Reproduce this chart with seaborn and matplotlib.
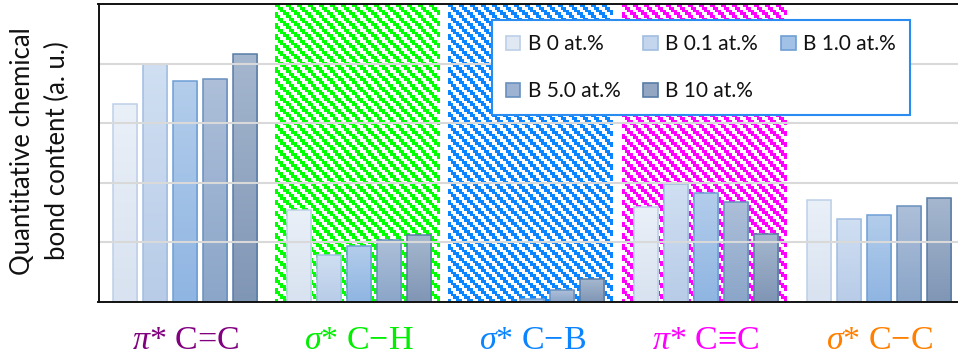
import numpy as np
import pandas as pd
import matplotlib
matplotlib.use("Agg")
import matplotlib.pyplot as plt
from matplotlib.colors import to_rgb
from matplotlib.patches import Patch
import seaborn as sns

# ---- data -------------------------------------------------------------
bonds = ["π* C=C", "σ* C−H", "σ* C−B", "π* C≡C", "σ* C−C"]
bond_labels = ["$\\pi$* C=C", "$\\sigma$* C−H", "$\\sigma$* C−B",
               "$\\pi$* C≡C", "$\\sigma$* C−C"]
bond_colors = ["#800080", "#00ee00", "#0a84ff", "#ff00ff", "#ff8000"]
samples = ["B 0 at.%", "B 0.1 at.%", "B 1.0 at.%", "B 5.0 at.%", "B 10 at.%"]

b_0 = [3.32, 1.54, 0.00, 1.59, 1.71]
b_01 = [4.00, 0.79, 0.00, 1.98, 1.39]
b_10 = [3.70, 0.94, 0.04, 1.82, 1.46]
b_50 = [3.74, 1.04, 0.20, 1.68, 1.60]
b_100 = [4.16, 1.12, 0.38, 1.14, 1.74]

# hatched backdrop behind the σ*C−H, σ*C−B and π*C≡C groups
hatched_bonds = ["σ* C−H", "σ* C−B", "π* C≡C"]
hatch_colors = ["#00ff00", "#0a84ff", "#ff00ff"]

# ---- style ------------------------------------------------------------
sns.set_theme(style="white")
plt.rcParams["font.family"] = ["Lato", "DejaVu Sans"]
plt.rcParams["mathtext.fontset"] = "custom"
plt.rcParams["mathtext.rm"] = "Liberation Serif"
plt.rcParams["mathtext.it"] = "Liberation Serif:italic"

grad_top = ["#eaf0f8", "#d0dff2", "#b3cdeb", "#adbfd9", "#a5b7cf"]
grad_bot = ["#d8e2f0", "#b8cce8", "#8fb5e2", "#8ba6c9", "#8096b5"]
edge_cols = ["#bccfe8", "#a0bde2", "#6e9fd5", "#6890bf", "#587ca6"]
mid_cols = ["#e0e8f4", "#c4d6ee", "#a2c1e6", "#9db3d1", "#94a7c2"]

df = pd.DataFrame({
    "bond": bonds * 5,
    "sample": np.repeat(samples, len(bonds)),
    "value": b_0 + b_01 + b_10 + b_50 + b_100,
})

fig = plt.figure(figsize=(9.58, 3.58), dpi=100)
ax = fig.add_axes([98.5 / 958, 56.3 / 358, 1 - 98.5 / 958, 297.7 / 358])

sns.barplot(data=df, x="bond", y="value", hue="sample", order=bonds,
            hue_order=samples, palette=mid_cols, width=0.865, gap=0.2,
            linewidth=1.1, edgecolor="#888888", ax=ax, legend=False,
            zorder=2)

# vertical colour gradient inside every bar
for k, cont in enumerate(ax.containers):
    top = np.array(to_rgb(grad_top[k]))
    bot = np.array(to_rgb(grad_bot[k]))
    t = np.linspace(0, 1, 64)[:, None, None]
    grad = top[None, None, :] * (1 - t) + bot[None, None, :] * t
    for bar in cont:
        bar.set_edgecolor(edge_cols[k])
        x0, w, h = bar.get_x(), bar.get_width(), bar.get_height()
        if h <= 0:
            continue
        im = ax.imshow(grad, extent=(x0, x0 + w, 0, h), aspect="auto",
                       interpolation="bilinear", zorder=2.1)
        im.set_clip_path(bar)
        bar.set_facecolor("none")
        bar.set_zorder(2.2)

# stair-stepped diagonal hatching
cells = 4
pw, ph = 60, 108
rr, cc = np.mgrid[0:ph, 0:pw]
mask = ((cc - rr) % cells) < 2
for name, col in zip(hatched_bonds, hatch_colors):
    i = bonds.index(name)
    img = np.ones((ph, pw, 3))
    img[mask] = to_rgb(col)
    ax.imshow(img, extent=(i - 0.483, i + 0.468, 0, 5), aspect="auto",
              interpolation="nearest", zorder=0.2)

# axes cosmetics
ax.set_xlim(-0.5, 4.454)
ax.set_ylim(0, 5)
ax.set_yticks([1, 2, 3, 4])
ax.set_yticklabels([])
ax.set_xticks(range(len(bonds)))
ax.set_xticklabels([])
ax.tick_params(length=0)
ax.grid(axis="y", color="#d9d9d9", linewidth=1.5, zorder=1)
ax.set_axisbelow(False)
for gl in ax.get_ygridlines():
    gl.set_zorder(1)
ax.set_xlabel("")
ax.set_ylabel("")
for side in ["left", "bottom", "top"]:
    ax.spines[side].set_visible(True)
    ax.spines[side].set_color("#111111")
    ax.spines[side].set_linewidth(1.4)
    ax.spines[side].set_zorder(3)
ax.spines["right"].set_visible(False)

# category labels under the axis
for i, (lab, col) in enumerate(zip(bond_labels, bond_colors)):
    ax.text(i, -0.132, lab, transform=ax.get_xaxis_transform(),
            ha="center", va="center", color=col, fontsize=24.5,
            family=["Liberation Serif", "DejaVu Serif"])

fig.text(40 / 958, 0.578, "Quantitative chemical\nbond content (a. u.)",
         rotation=90, ha="center", va="center", fontsize=18.5,
         linespacing=1.45, color="#111111")

# legend laid out row by row
handles = [Patch(facecolor=mid_cols[k], edgecolor=edge_cols[k], linewidth=1.2)
           for k in range(len(samples))]
order = [0, 3, 1, 4, 2]
leg = ax.legend([handles[k] for k in order], [samples[k] for k in order],
                ncol=3, loc="upper left", bbox_to_anchor=(491.7 / 958, 1 - 20 / 358),
                bbox_transform=fig.transFigure, borderaxespad=0, fontsize=15,
                frameon=True, fancybox=False, handlelength=0.7, handleheight=0.7,
                handletextpad=0.35, columnspacing=1.1, labelspacing=1.3,
                borderpad=0.68)
leg.get_frame().set_edgecolor("#2a8cf0")
leg.get_frame().set_linewidth(1.5)
leg.get_frame().set_facecolor("white")
leg.get_frame().set_alpha(1)
leg.set_zorder(5)
for txt in leg.get_texts():
    txt.set_color("#111111")

fig.savefig("out.png", dpi=100)
